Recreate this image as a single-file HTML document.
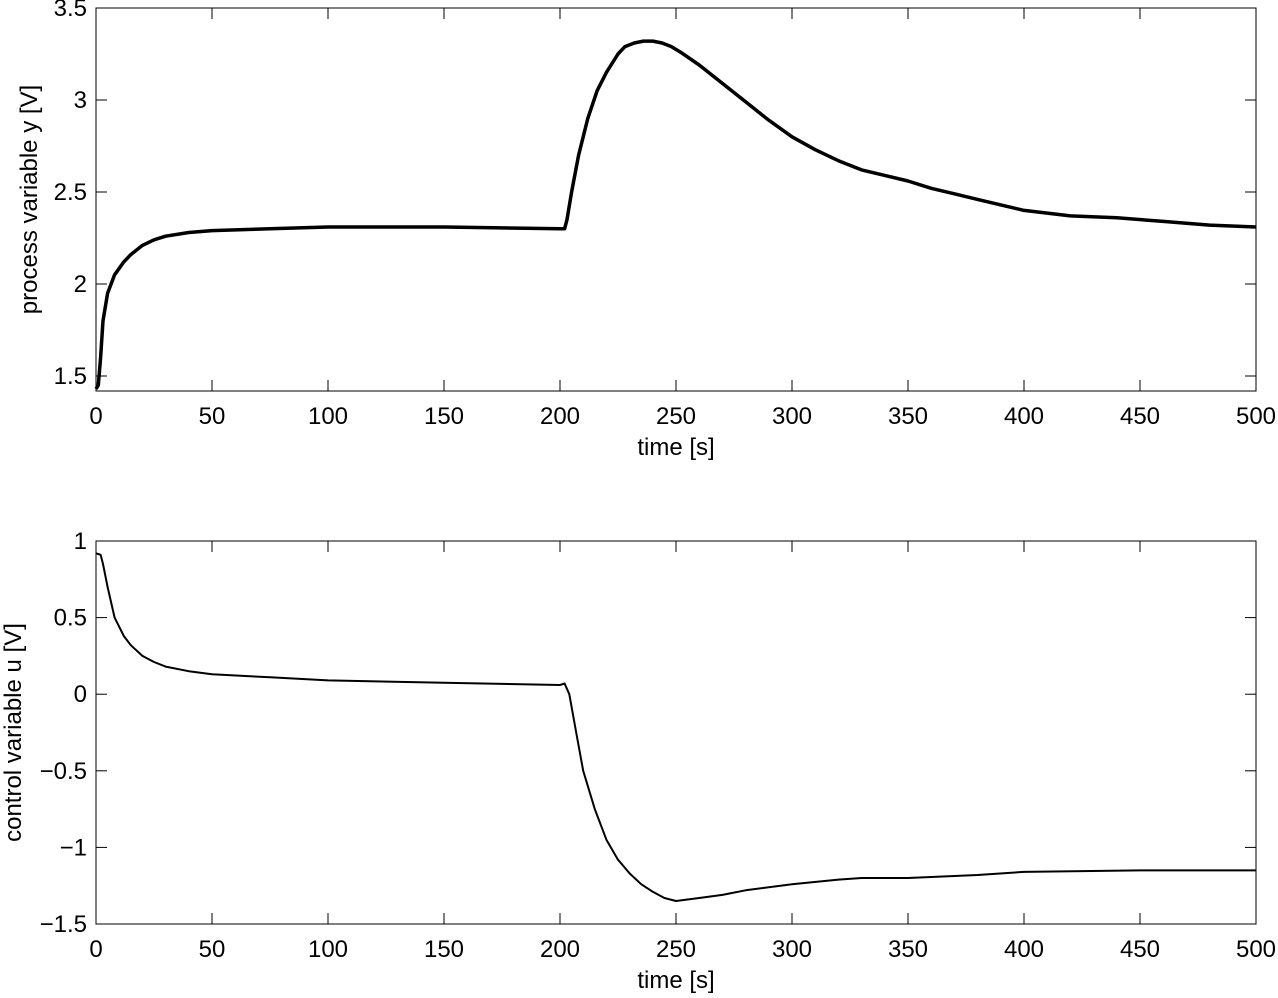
<!DOCTYPE html>
<html><head><meta charset="utf-8"><style>
html,body{margin:0;padding:0;background:#fff;}
svg text{font-family:"Liberation Sans",Arial,sans-serif;font-size:24px;fill:#000;}
</style></head><body>
<svg id="chart" width="1278" height="993" viewBox="0 0 1278 993" xmlns="http://www.w3.org/2000/svg"></svg>
<script>
const xTicks=[0,50,100,150,200,250,300,350,400,450,500];
const yTicksTop=[1.5,2,2.5,3,3.5];
const yTicksBot=[-1.5,-1,-0.5,0,0.5,1];
const tTop=[0,1,2,3,5,8,12,15,20,25,30,40,50,75,100,150,200,202,203,205,208,212,216,220,225,228,232,236,240,244,248,252,260,270,280,290,300,310,320,330,340,350,360,370,380,390,400,420,440,460,480,500];
const yTop=[1.43,1.45,1.6,1.8,1.95,2.05,2.12,2.16,2.21,2.24,2.26,2.28,2.29,2.30,2.31,2.31,2.30,2.30,2.35,2.5,2.7,2.9,3.05,3.15,3.25,3.29,3.31,3.32,3.32,3.31,3.29,3.26,3.19,3.09,2.99,2.89,2.80,2.73,2.67,2.62,2.59,2.56,2.52,2.49,2.46,2.43,2.40,2.37,2.36,2.34,2.32,2.31];
const tBot=[0,2,3,5,8,12,15,20,25,30,40,50,75,100,150,200,202,204,207,210,215,220,225,230,235,240,245,250,260,270,280,300,320,330,350,380,400,450,500];
const uBot=[0.92,0.91,0.85,0.7,0.5,0.38,0.32,0.25,0.21,0.18,0.15,0.13,0.11,0.09,0.075,0.06,0.07,0.0,-0.25,-0.5,-0.75,-0.95,-1.08,-1.17,-1.24,-1.29,-1.33,-1.35,-1.33,-1.31,-1.28,-1.24,-1.21,-1.2,-1.2,-1.18,-1.16,-1.15,-1.15];

const NS="http://www.w3.org/2000/svg";
const svg=document.getElementById('chart');
function mk(tag,attrs,parent){const e=document.createElementNS(NS,tag);for(const k in attrs)e.setAttribute(k,attrs[k]);(parent||svg).appendChild(e);return e;}

function panel(cfg){
  const L=96,R=1256,T=cfg.top,B=cfg.bottom;
  const sx=v=>L+(v-0)/(500-0)*(R-L);
  const sy=v=>B-(v-cfg.ymin)/(cfg.ymax-cfg.ymin)*(B-T);
  const g=mk('g',{});
  
  
  let d='';
  cfg.xs.forEach((x,i)=>{d+=(i?'L':'M')+sx(x).toFixed(1)+','+sy(cfg.ys[i]).toFixed(1);});
  const p=mk('path',{d:d,fill:'none',stroke:'#000','stroke-width':cfg.sw,'stroke-linejoin':'round'},g);
  
  
  const box=mk('rect',{x:L,y:T,width:R-L,height:B-T,fill:'none',stroke:'#000','stroke-width':1},g);
  
  
  xTicks.forEach(v=>{
    const x=sx(v);
    mk('line',{x1:x,y1:B,x2:x,y2:B-11,stroke:'#000'},g);
    mk('line',{x1:x,y1:T,x2:x,y2:T+11,stroke:'#000'},g);
    const t=mk('text',{x:x,y:B+33,'text-anchor':'middle'},g);
    t.textContent=String(v);
    
    
  });
  cfg.yticks.forEach(v=>{
    const y=sy(v);
    mk('line',{x1:L,y1:y,x2:L+11,y2:y,stroke:'#000'},g);
    mk('line',{x1:R,y1:y,x2:R-11,y2:y,stroke:'#000'},g);
    const t=mk('text',{x:L-9,y:y+8,'text-anchor':'end'},g);
    t.textContent=v<0?('\u2212'+Math.abs(v)):String(v);
    
    
  });
  const xl=mk('text',{x:(L+R)/2,y:B+64,'text-anchor':'middle'},g);
  xl.textContent='time [s]';
  
  
  const cy=(T+B)/2;
  const yl=mk('text',{x:cfg.ylx,y:cy,'text-anchor':'middle',transform:'rotate(-90 '+cfg.ylx+' '+cy+')'},g);
  yl.textContent=cfg.ylabel;
  
  
}
panel({name:'process-variable-plot',top:8,bottom:391,ymin:1.5-15/184,ymax:3.5,yticks:yTicksTop,xs:tTop,ys:yTop,sw:3.5,ylabel:'process variable y [V]',ylx:37});
panel({name:'control-variable-plot',top:541,bottom:924,ymin:-1.5,ymax:1,yticks:yTicksBot,xs:tBot,ys:uBot,sw:2,ylabel:'control variable u [V]',ylx:21});
</script>
</body></html>
